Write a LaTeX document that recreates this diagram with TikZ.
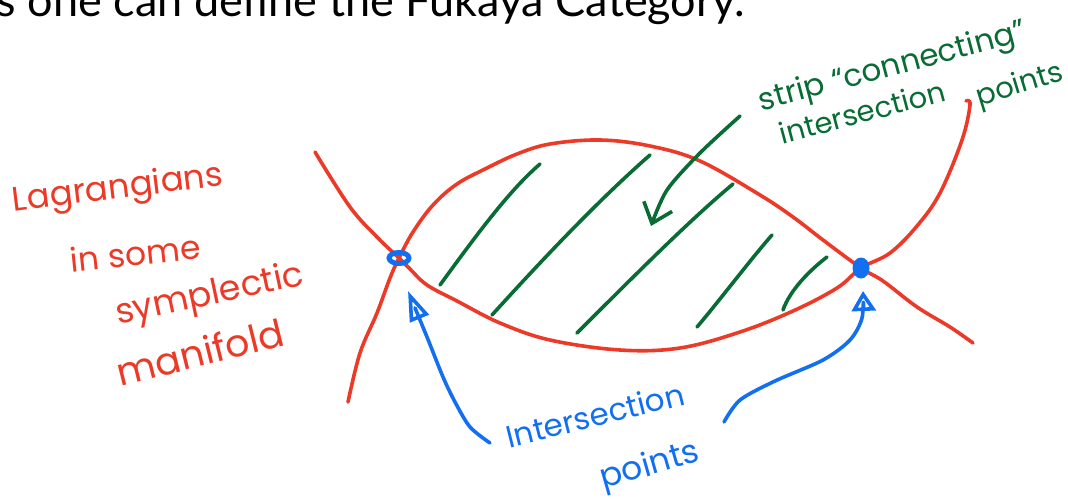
\documentclass[tikz,border=0pt]{standalone}
\usepackage{fontspec}
\setmainfont{Lato}
\newfontfamily\handfont{Poppins}
\usetikzlibrary{arrows.meta,shapes.geometric}
\definecolor{inkred}{RGB}{236,58,40}
\definecolor{inkgreen}{RGB}{8,108,52}
\definecolor{inkblue}{RGB}{18,112,240}
\begin{document}
\begin{tikzpicture}[x=1pt,y=-1pt,
  stroke/.style={line width=3.6pt, line cap=round, line join=round},
  redline/.style={stroke, draw=inkred},
  greenline/.style={stroke, draw=inkgreen},
  blueline/.style={stroke, draw=inkblue},
  handtext/.style={inner sep=0pt, font=\handfont\fontsize{#1}{#1}\selectfont},
  redtext/.style={handtext=#1, text=inkred},
  greentext/.style={handtext=#1, text=inkgreen},
  bluetext/.style={handtext=#1, text=inkblue}]
\useasboundingbox (0,0) rectangle (1068,498);

% title line (cut off at the top)
\node[anchor=base east, inner sep=0pt, font=\fontsize{45}{45}\selectfont] (title) at (745,16) {s one can define the Fukaya Category.};

% intersection points
\coordinate (L) at (399,258);
\coordinate (R) at (861,268);

% Lagrangian curves
\draw[redline] plot[smooth, tension=0.6] coordinates {(348,402) (360,353) (377,313) (390,278) (L) (413,232) (433,205) (457,184) (487,168) (517,154) (550,144) (600,140) (650,146) (700,161) (760,195) (793,217) (823,240) (R) (883,281) (917,307) (950,327) (973,343)};
\draw[redline] plot[smooth, tension=0.6] coordinates {(315,152) (350,207) (378,238) (L) (410,269) (427,285) (457,301) (500,323) (550,340) (620,350) (680,348) (740,332) (793,311) (837,288) (R) (890,253) (917,226) (940,193) (962,140) (970,105) (966,101)};

% dots
\node[ellipse, draw=inkblue, line width=5pt, minimum width=20pt, minimum height=11pt, inner sep=0pt] (dotL) at (L) {};
\node[ellipse, fill=inkblue, minimum width=17pt, minimum height=21pt, inner sep=0pt] (dotR) at (R) {};

% hatching of the strip
\draw[greenline] (440,285) .. controls (480,230) and (510,190) .. (540,164);
\draw[greenline] (492,315) .. controls (560,240) and (610,190) .. (650,155);
\draw[greenline] (577,333) .. controls (640,270) and (690,220) .. (733,184);
\draw[greenline] (697,327) .. controls (720,300) and (750,260) .. (772,235);
\draw[greenline] (783,310) .. controls (790,290) and (810,270) .. (827,257);

% strip label and arrow
\node[greentext=31, rotate=15] (strip) at (893,68) {strip “connecting”};
\node[greentext=29, rotate=15] (inter) at (862,112) {intersection};
\node[greentext=29, rotate=17] (pts) at (1020,86) {points};
\coordinate (gstart) at (740,116);
\coordinate (gtip) at (651,226);
\draw[greenline, -{Straight Barb[length=18pt,width=30pt,line width=3.6pt]}] plot[smooth] coordinates {(gstart) (700,153) (667,190) (gtip)};

% left label
\node[redtext=34, rotate=7] (lag) at (118,190) {Lagrangians};
\node[redtext=33, rotate=6] (insome) at (135,253) {in some};
\node[redtext=35, rotate=12] (symp) at (210,296) {symplectic};
\node[redtext=38, rotate=14] (manif) at (200,352) {manifold};

% intersection points label and arrows
\node[bluetext=31, rotate=14] (ilab) at (595,415) {Intersection};
\node[bluetext=33, rotate=16] (plab) at (650,467) {points};
\coordinate (b1start) at (490,443);
\coordinate (b1tip) at (408,291);
\coordinate (b2start) at (724,422);
\coordinate (b2tip) at (863,291);
\draw[blueline, -{Triangle[open,length=30pt,width=20pt,line width=3.6pt]}] plot[smooth] coordinates {(b1start) (470,427) (455,402) (443,377) (427,337) (b1tip)};
\draw[blueline, -{Triangle[open,length=20pt,width=24pt,line width=3.6pt]}] plot[smooth] coordinates {(b2start) (740,400) (775,381) (823,360) (850,340) (862,318) (b2tip)};
\end{tikzpicture}
\end{document}
